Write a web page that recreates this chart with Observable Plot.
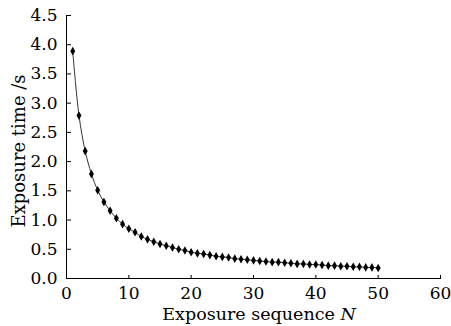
<!DOCTYPE html>
<html>
<head>
<meta charset="utf-8">
<script src="https://cdn.jsdelivr.net/npm/d3@7"></script>
<script src="https://cdn.jsdelivr.net/npm/@observablehq/plot@0.6"></script>
<style>
  html, body { margin: 0; padding: 0; background: #fff; }
  #chart svg { display: block; }
</style>
</head>
<body>
<div id="chart"></div>
<script>
const sequence = d3.range(1, 51);
const exposureTime = [
  3.89, 2.79, 2.18, 1.79, 1.51, 1.31, 1.16, 1.03, 0.93, 0.85,
  0.79, 0.72, 0.67, 0.63, 0.59, 0.56, 0.53, 0.50, 0.48, 0.45,
  0.43, 0.42, 0.40, 0.38, 0.37, 0.36, 0.34, 0.33, 0.32, 0.31,
  0.30, 0.29, 0.28, 0.28, 0.27, 0.26, 0.25, 0.25, 0.24, 0.24,
  0.23, 0.22, 0.22, 0.21, 0.21, 0.20, 0.20, 0.19, 0.19, 0.18
];
const xTicks = [0, 10, 20, 30, 40, 50, 60];
const yTicks = [0, 0.5, 1.0, 1.5, 2.0, 2.5, 3.0, 3.5, 4.0, 4.5];

const data = sequence.map((n, i) => ({n, t: exposureTime[i]}));
const font = "DejaVu Serif";

const chart = Plot.plot({
  width: 451,
  height: 326,
  marginLeft: 66,
  marginRight: 11,
  marginTop: 15,
  marginBottom: 48,
  style: {fontFamily: font, fontSize: "17px", color: "#000", background: "#fff"},
  x: {domain: [0, 60]},
  y: {domain: [0, 4.5]},
  marks: [
    Plot.ruleX([0], {stroke: "#000", strokeWidth: 1}),
    Plot.ruleY([0], {stroke: "#000", strokeWidth: 1}),
    // tick labels
    Plot.axisX({ticks: xTicks, tickSize: 0, tickPadding: 8, label: null, fontSize: 17}),
    Plot.axisY({ticks: yTicks, tickSize: 0, tickPadding: 9, tickFormat: d3.format(".1f"), label: null, fontSize: 17}),
    // inward tick marks
    Plot.axisX({ticks: xTicks, anchor: "top", frameAnchor: "bottom", tickSize: 4, tickFormat: () => "", label: null}),
    Plot.axisY({ticks: yTicks, anchor: "right", frameAnchor: "left", tickSize: 4, tickFormat: () => "", label: null}),
    Plot.line(data, {x: "n", y: "t", curve: "catmull-rom", stroke: "#333", strokeWidth: 1}),
    Plot.dot(data, {x: "n", y: "t", symbol: "diamond", r: 2.6, fill: "#000", stroke: "none"})
  ]
});

const svg = d3.select(chart);
svg.append("text")
  .attr("x", 259).attr("y", 319.5)
  .attr("text-anchor", "middle")
  .attr("font-family", font).attr("font-size", 17.5)
  .html('Exposure sequence <tspan font-style="italic">N</tspan>');
svg.append("text")
  .attr("transform", "translate(25,151) rotate(-90)")
  .attr("text-anchor", "middle")
  .attr("font-family", font).attr("font-size", 18)
  .text("Exposure time /s");

document.getElementById("chart").appendChild(chart);
</script>
</body>
</html>
